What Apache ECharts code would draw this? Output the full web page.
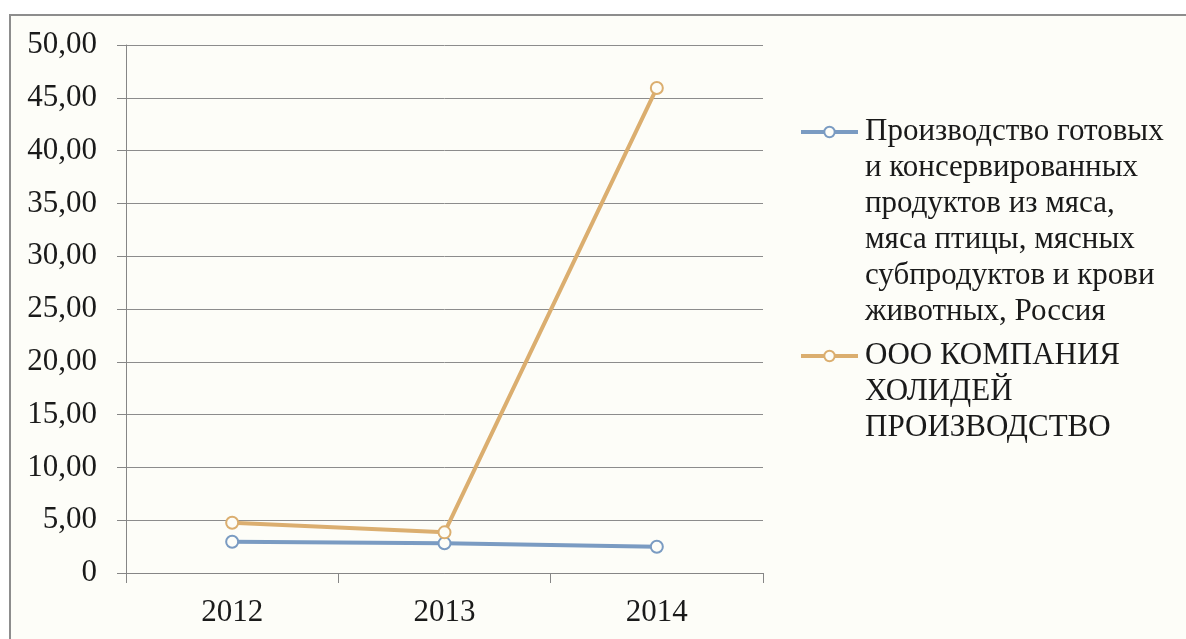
<!DOCTYPE html>
<html>
<head>
<meta charset="utf-8">
<script src="https://cdn.jsdelivr.net/npm/echarts@6/dist/echarts.min.js"></script>
<style>
  html, body { margin: 0; padding: 0; background: #ffffff; }
  #frame {
    position: absolute; left: 9px; top: 14px; width: 1200px; height: 640px;
    border: 2px solid #8d8d8d; background: #fdfdf8;
  }
  #chart { position: absolute; left: 0; top: 0; width: 1186px; height: 639px; }
</style>
</head>
<body>
<div id="frame"></div>
<div id="chart"></div>
<script>
// years on the x axis
var years = ['2012', '2013', '2014'];

// series names (line breaks as in the legend)
var nameIndustry = 'Производство готовых\nи консервированных\nпродуктов из мяса,\nмяса птицы, мясных\nсубпродуктов и крови\nживотных, Россия';
var nameCompany = 'ООО КОМПАНИЯ\nХОЛИДЕЙ\nПРОИЗВОДСТВО';

// values
var industryValues = [2.96, 2.81, 2.49];
var companyValues = [4.76, 3.85, 45.93];

var blue = '#7a9bc2';
var orange = '#dbae6f';
var font = '"Liberation Serif", "Times New Roman", serif';
var lh = 36;

var chartDom = document.getElementById('chart');
var myChart = echarts.init(chartDom);
var option;

// one legend per series. The icon is centred on the text block, so
// blank lines are put in front of the name to bring the first line level with it
function legendFor(name, iconY) {
    var n = name.split('\n').length;
    var blanks = new Array(n).join('\n');
    return {
        orient: 'vertical',
        left: 794,
        top: iconY - (2 * n - 1) * lh / 2 - 5,
        itemWidth: 57,
        itemHeight: 13,
        itemGap: 0,
        data: [name],
        lineStyle: { width: 4 },
        formatter: function (s) {
            return blanks + s;
        },
        textStyle: {
            fontFamily: font,
            fontSize: 31,
            color: '#1a1a1a',
            lineHeight: lh,
            padding: [0, 0, 0, 2]
        }
    };
}

option = {
    animation: false,
    legend: [
        legendFor(nameIndustry, 132),
        legendFor(nameCompany, 356)
    ],
    grid: {
        left: 126,
        right: 423,
        top: 45,
        bottom: 66
    },
    xAxis: {
        type: 'category',
        data: years,
        axisLine: { lineStyle: { color: '#868686', width: 1 } },
        axisTick: { show: true, length: 10, lineStyle: { color: '#868686' } },
        axisLabel: {
            margin: 24,
            fontFamily: font,
            fontSize: 31,
            color: '#1a1a1a'
        }
    },
    yAxis: {
        type: 'value',
        min: 0,
        max: 50,
        interval: 5,
        axisLine: { show: true, lineStyle: { color: '#868686', width: 1 } },
        axisTick: { show: true, length: 9, lineStyle: { color: '#868686' } },
        splitLine: { lineStyle: { color: '#8c8c8c', width: 1 } },
        axisLabel: {
            margin: 29,
            fontFamily: font,
            fontSize: 31,
            color: '#1a1a1a',
            formatter: function (v) {
                return v === 0 ? '0' : v.toFixed(2).replace('.', ',');
            }
        }
    },
    series: [
        {
            name: nameIndustry,
            type: 'line',
            data: industryValues,
            symbol: 'circle',
            symbolSize: 12,
            lineStyle: { color: blue, width: 4 },
            itemStyle: { color: '#fdfdf8', borderColor: blue, borderWidth: 2 }
        },
        {
            name: nameCompany,
            type: 'line',
            data: companyValues,
            symbol: 'circle',
            symbolSize: 12,
            lineStyle: { color: orange, width: 4 },
            itemStyle: { color: '#fdfdf8', borderColor: orange, borderWidth: 2 }
        }
    ]
};

option && myChart.setOption(option);
</script>
</body>
</html>
